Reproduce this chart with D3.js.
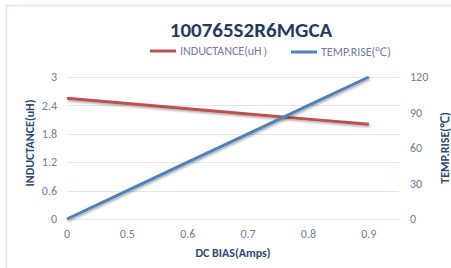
<!DOCTYPE html>
<html>
<head>
<meta charset="utf-8">
<script src="https://cdn.jsdelivr.net/npm/d3@7"></script>
<style>
body{margin:0;background:#fff;}
svg text{font-family:Calibri,"Carlito","Open Sans",sans-serif;}
</style>
</head>
<body>
<script>
// chart data
var categories = ["0", "0.5", "0.6", "0.7", "0.8", "0.9"];
var inductance = [2.55, 2.44, 2.33, 2.22, 2.11, 2.0];
var tempRise = [0, 24, 48, 72, 96, 120];
var leftTicks = [0, 0.6, 1.2, 1.8, 2.4, 3];
var rightTicks = [0, 30, 60, 90, 120];

var width = 451, height = 268;
var plotLeft = 67, plotRight = 399, plotTop = 77, plotBottom = 219;
var red = "#c0504d", blue = "#4f81bd";
var tickColor = "#6b80a6", titleColor = "#2a4a7c", gridColor = "#dde7f5";

var svg = d3.select("body").append("svg")
	.attr("width", width)
	.attr("height", height);

var defs = svg.append("defs");
var f = defs.append("filter").attr("id", "shadow")
	.attr("x", "-10%").attr("y", "-10%").attr("width", "120%").attr("height", "140%");
f.append("feDropShadow").attr("dx", 1).attr("dy", 1.5).attr("stdDeviation", 1)
	.attr("flood-color", "#000").attr("flood-opacity", 0.35);

// outer border (only top and left visible)
svg.append("line").attr("x1", 6).attr("x2", width).attr("y1", 5.5).attr("y2", 5.5)
	.attr("stroke", "#d6e3f5").attr("stroke-width", 1.5);
svg.append("line").attr("x1", 6.5).attr("x2", 6.5).attr("y1", 5).attr("y2", height)
	.attr("stroke", "#d6e3f5").attr("stroke-width", 1.5);

var x = d3.scaleLinear().domain([0, 5.5]).range([plotLeft, plotRight]);
var yL = d3.scaleLinear().domain([0, 3]).range([plotBottom, plotTop]);
var yR = d3.scaleLinear().domain([0, 120]).range([plotBottom, plotTop]);

//gridlines
svg.selectAll(".grid")
	.data(leftTicks)
	.enter().append("line")
	.attr("class", "grid")
	.attr("x1", plotLeft).attr("x2", plotRight)
	.attr("y1", function(d){ return Math.round(yL(d)) + 0.5; })
	.attr("y2", function(d){ return Math.round(yL(d)) + 0.5; })
	.attr("stroke", gridColor)
	.attr("stroke-width", 1.2);

// left axis labels
svg.selectAll(".ltick")
	.data(leftTicks)
	.enter().append("text")
	.attr("class", "ltick")
	.attr("x", 57)
	.attr("y", function(d){ return yL(d); })
	.attr("dy", "0.35em")
	.attr("text-anchor", "end")
	.attr("font-size", 12)
	.attr("fill", tickColor)
	.text(function(d){ return d; });

// right axis labels
svg.selectAll(".rtick")
	.data(rightTicks)
	.enter().append("text")
	.attr("class", "rtick")
	.attr("x", 410)
	.attr("y", function(d){ return yR(d); })
	.attr("dy", "0.35em")
	.attr("text-anchor", "start")
	.attr("font-size", 12)
	.attr("fill", tickColor)
	.text(function(d){ return d; });

// x axis labels
svg.selectAll(".xtick")
	.data(categories)
	.enter().append("text")
	.attr("class", "xtick")
	.attr("x", function(d, i){ return x(i); })
	.attr("y", 238)
	.attr("text-anchor", "middle")
	.attr("font-size", 12)
	.attr("fill", tickColor)
	.text(function(d){ return d; });

// lines
var lineL = d3.line()
	.x(function(d, i){ return x(i); })
	.y(function(d){ return yL(d); });
var lineR = d3.line()
	.x(function(d, i){ return x(i); })
	.y(function(d){ return yR(d); });

svg.append("path")
	.datum(inductance)
	.attr("d", lineL)
	.attr("fill", "none")
	.attr("stroke", red)
	.attr("stroke-width", 3)
	.attr("filter", "url(#shadow)");

svg.append("path")
	.datum(tempRise)
	.attr("d", lineR)
	.attr("fill", "none")
	.attr("stroke", blue)
	.attr("stroke-width", 3)
	.attr("filter", "url(#shadow)");

// title
svg.append("text")
	.attr("x", 251).attr("y", 37)
	.attr("text-anchor", "middle")
	.attr("font-size", 21)
	.attr("font-weight", "bold")
	.attr("fill", "#1f3b66")
	.text("100765S2R6MGCA");

// legend
var legend = [
	{name: "INDUCTANCE(uH\uFF09", color: red, x: 150, y: 51},
	{name: "TEMP.RISE(\u2103)", color: blue, x: 291, y: 52}
];
var lg = svg.selectAll(".legend")
	.data(legend)
	.enter().append("g")
	.attr("class", "legend")
	.attr("transform", function(d){ return "translate(" + d.x + "," + d.y + ")"; });
lg.append("line")
	.attr("x1", 0).attr("x2", 26)
	.attr("stroke", function(d){ return d.color; })
	.attr("stroke-width", 3);
lg.append("text")
	.attr("x", 30).attr("dy", "0.35em")
	.attr("font-size", 12)
	.attr("fill", tickColor)
	.text(function(d){ return d.name; });

// axis titles
svg.append("text")
	.attr("x", 233).attr("y", 257)
	.attr("text-anchor", "middle")
	.attr("font-size", 12)
	.attr("font-weight", "bold")
	.attr("fill", titleColor)
	.text("DC BIAS(Amps)");

svg.append("text")
	.attr("transform", "translate(34,143) rotate(-90)")
	.attr("text-anchor", "middle")
	.attr("font-size", 12)
	.attr("font-weight", "bold")
	.attr("fill", titleColor)
	.text("INDUCTANCE(uH)");

svg.append("text")
	.attr("transform", "translate(445,148) rotate(-90)")
	.attr("text-anchor", "middle")
	.attr("dy", "0.35em")
	.attr("font-size", 12)
	.attr("font-weight", "bold")
	.attr("fill", titleColor)
	.text("TEMP.RISE(\u2103)");
</script>
</body>
</html>
